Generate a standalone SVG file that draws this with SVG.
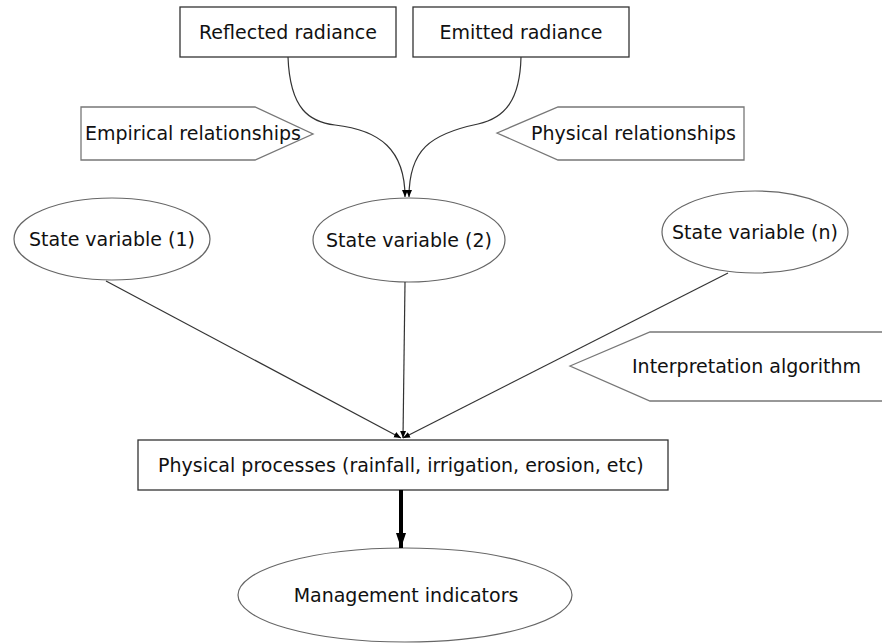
<svg xmlns="http://www.w3.org/2000/svg" width="882" height="644" viewBox="0 0 882 644">
<style>
text{font-family:"DejaVu Sans","Verdana",sans-serif;font-size:19px;fill:#111}
.box{fill:#fff;stroke:#333;stroke-width:1.3}
.pent{fill:#fff;stroke:#777;stroke-width:1.3}
.ell{fill:#fff;stroke:#666;stroke-width:1.2}
.con{fill:none;stroke:#333;stroke-width:1.2}
.thick{fill:none;stroke:#000;stroke-width:4}
</style>
<defs>
<marker id="ah" markerWidth="8" markerHeight="8" refX="7" refY="4" orient="auto" markerUnits="userSpaceOnUse">
<path d="M0,1 L7,4 L0,7 Z" fill="#000"/>
</marker>
<marker id="ahb" markerWidth="16" markerHeight="14" refX="15" refY="6" orient="auto" markerUnits="userSpaceOnUse">
<path d="M0,1 L15,6 L0,11 Z" fill="#000"/>
</marker>
</defs>
<g id="empirical"><path class="pent" d="M81,107 L255,107 L313,134 L255,160 L81,160 Z"/><text x="85" y="140">Empirical relationships</text></g>
<g id="physical-rel"><path class="pent" d="M497,133 L558,107 L744,107 L744,160 L558,160 Z"/><text x="531" y="140">Physical relationships</text></g>
<g id="interp"><path class="pent" d="M570,366 L650,332 L892,332 L892,401 L650,401 Z"/><text x="632" y="373">Interpretation algorithm</text></g>
<g id="reflected"><rect class="box" x="180" y="7" width="216" height="50"/><text x="288" y="39" text-anchor="middle">Reflected radiance</text></g>
<g id="emitted"><rect class="box" x="413" y="7" width="216" height="50"/><text x="521" y="39" text-anchor="middle">Emitted radiance</text></g>
<g id="sv1"><ellipse class="ell" cx="112" cy="239" rx="98" ry="41"/><text x="112" y="246" text-anchor="middle">State variable (1)</text></g>
<g id="sv2"><ellipse class="ell" cx="409" cy="240" rx="96" ry="42"/><text x="409" y="247" text-anchor="middle">State variable (2)</text></g>
<g id="svn"><ellipse class="ell" cx="755" cy="232" rx="93" ry="41"/><text x="755" y="239" text-anchor="middle">State variable (n)</text></g>
<g id="processes"><rect class="box" x="138" y="440" width="530" height="50"/><text x="158" y="472">Physical processes (rainfall, irrigation, erosion, etc)</text></g>
<g id="management"><ellipse class="ell" cx="405" cy="595" rx="167" ry="47"/><text x="406" y="602" text-anchor="middle">Management indicators</text></g>
<g id="connectors">
<path class="con" marker-end="url(#ah)" d="M288,57 C290,110 310,122 335,125 C380,130 405,150 405,197"/>
<path class="con" marker-end="url(#ah)" d="M521,57 C520,100 505,118 478,124 C430,134 409,150 409,197"/>
<path class="con" marker-end="url(#ah)" d="M106,281 L401,438"/>
<path class="con" marker-end="url(#ah)" d="M405,282 L403,438"/>
<path class="con" marker-end="url(#ah)" d="M728,273 L403,438"/>
<path class="thick" marker-end="url(#ahb)" d="M401,490 L401,548"/>
</g>
</svg>
